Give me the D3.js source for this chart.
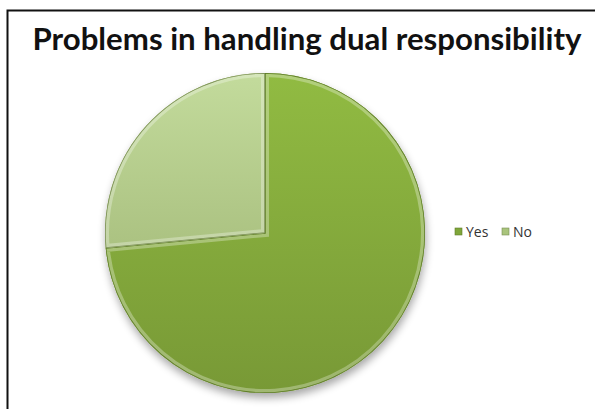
<!DOCTYPE html>
<html>
<head>
<meta charset="utf-8">
<script src="https://cdn.jsdelivr.net/npm/d3@7"></script>
<style>
  html, body { margin: 0; padding: 0; background: #fff; }
  svg { display: block; }
</style>
</head>
<body>
<svg id="chart" width="595" height="409"></svg>
<script>
// chart data
const categories = ["Yes", "No"];
const shares = [73.5, 26.5];
const titleText = "Problems in handling dual responsibility";

const width = 595, height = 409;
const cx = 265, cy = 233, radius = 160;

const svg = d3.select("#chart");
const defs = svg.append("defs");

// fills: darker olive for Yes, pale sage for No
const palette = {
  Yes: { top: "#91bb42", bottom: "#789936", edge: "#5f7d28", key: "#7fa63a" },
  No:  { top: "#c3db9c", bottom: "#97ad6b", edge: "#7b8f55", key: "#a9c47c" }
};

categories.forEach((c) => {
  const g = defs.append("linearGradient")
    .attr("id", "grad-" + c)
    .attr("gradientUnits", "userSpaceOnUse")
    .attr("x1", 0).attr("y1", cy - radius)
    .attr("x2", 0).attr("y2", cy + radius);
  g.append("stop").attr("offset", "0%").attr("stop-color", palette[c].top);
  g.append("stop").attr("offset", "100%").attr("stop-color", palette[c].bottom);
});

// bevel band: light top-left, dark bottom-right
const bevel = defs.append("linearGradient")
  .attr("id", "bevel")
  .attr("gradientUnits", "userSpaceOnUse")
  .attr("x1", cx - radius).attr("y1", cy - radius)
  .attr("x2", cx + radius).attr("y2", cy + radius);
bevel.append("stop").attr("offset", "0%").attr("stop-color", "#ffffff").attr("stop-opacity", 0.3);
bevel.append("stop").attr("offset", "50%").attr("stop-color", "#ffffff").attr("stop-opacity", 0.08);
bevel.append("stop").attr("offset", "100%").attr("stop-color", "#000000").attr("stop-opacity", 0.2);

const shadow = defs.append("filter")
  .attr("id", "shadow")
  .attr("x", "-20%").attr("y", "-20%")
  .attr("width", "140%").attr("height", "140%");
shadow.append("feGaussianBlur").attr("in", "SourceAlpha").attr("stdDeviation", 4);
shadow.append("feOffset").attr("dx", 1).attr("dy", 5).attr("result", "off");
shadow.append("feComponentTransfer").append("feFuncA").attr("type", "linear").attr("slope", 0.35);
const merge = shadow.append("feMerge");
merge.append("feMergeNode");
merge.append("feMergeNode").attr("in", "SourceGraphic");

// frame (only left and top edges are inside the picture)
svg.append("path")
  .attr("d", `M7.5,${height} L7.5,10.5 L${width},10.5`)
  .attr("fill", "none")
  .attr("stroke", "#111")
  .attr("stroke-width", 2);

// title, sized to the reference width
const title = svg.append("text")
  .attr("x", 307)
  .attr("y", 50)
  .attr("text-anchor", "middle")
  .attr("font-family", "Lato, 'Open Sans', sans-serif")
  .attr("font-weight", "bold")
  .attr("font-size", 26)
  .attr("fill", "#111")
  .text(titleText);
const tw = title.node().getComputedTextLength();
title.attr("font-size", 26 * 549 / tw);

const data = categories.map((c, i) => ({ cat: c, value: shares[i] }));
const pie = d3.pie().sort(null).value((d) => d.value);
const arc = d3.arc().innerRadius(0).outerRadius(radius);
const arcs = pie(data);

// shadow disc under the pie
svg.append("circle")
  .attr("cx", cx).attr("cy", cy).attr("r", radius)
  .attr("fill", "#7a9a38")
  .attr("filter", "url(#shadow)");

arcs.forEach((d) => {
  const cat = d.data.cat;
  const p = arc(d);
  defs.append("clipPath").attr("id", "clip-" + cat)
    .attr("transform", `translate(${cx},${cy})`)
    .append("path").attr("d", p);

  const g = svg.append("g").attr("clip-path", `url(#clip-${cat})`);
  g.append("rect")
    .attr("x", cx - radius).attr("y", cy - radius)
    .attr("width", radius * 2).attr("height", radius * 2)
    .attr("fill", `url(#grad-${cat})`);
  g.append("path")
    .attr("transform", `translate(${cx},${cy})`)
    .attr("d", p)
    .attr("fill", "none")
    .attr("stroke", "url(#bevel)")
    .attr("stroke-width", 8);
  g.append("path")
    .attr("transform", `translate(${cx},${cy})`)
    .attr("d", p)
    .attr("fill", "none")
    .attr("stroke", palette[cat].edge)
    .attr("stroke-width", 1.5);
});

// legend
const legend = svg.append("g").attr("transform", "translate(455,232)");
const offsets = [0, 47];
categories.forEach((c, i) => {
  const item = legend.append("g").attr("transform", `translate(${offsets[i]},0)`);
  item.append("rect")
    .attr("x", 0).attr("y", -4)
    .attr("width", 7).attr("height", 7)
    .attr("fill", palette[c].key)
    .attr("stroke", palette[c].edge)
    .attr("stroke-width", 0.6);
  item.append("text")
    .attr("x", 11).attr("y", 5)
    .attr("font-family", "'Open Sans', sans-serif")
    .attr("font-size", 14)
    .attr("fill", "#333")
    .text(c);
});
</script>
</body>
</html>
